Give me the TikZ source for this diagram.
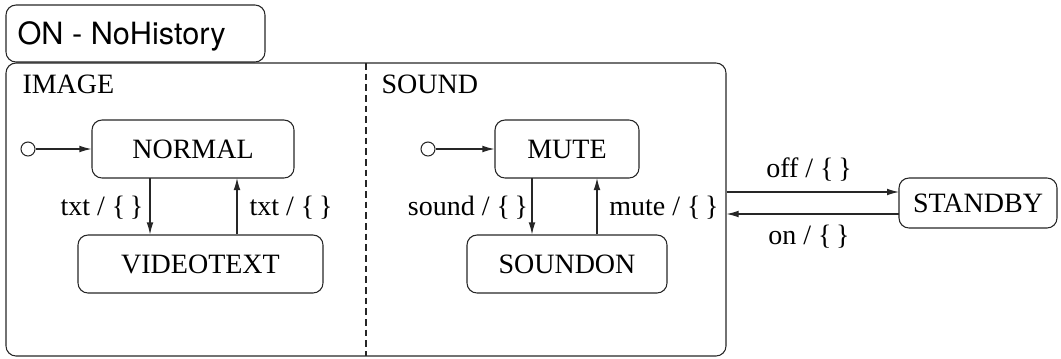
\documentclass[tikz,border=0pt]{standalone}
\usepackage{fontspec}
\setmainfont{Liberation Serif}
\newfontfamily\titlefont{TeX Gyre Heros}
\usetikzlibrary{arrows.meta,calc}
\begin{document}
\begin{tikzpicture}[x=0.75pt,y=-0.75pt,
  line width=0.8pt,
  state/.style={draw=black!85, rounded corners=7.5pt, minimum height=43.5pt, inner sep=0pt, font=\fontsize{21}{24}\selectfont},
  lbl/.style={inner sep=0pt, font=\fontsize{21}{24}\selectfont},
  arr/.style={draw=black!85, -{Latex[length=9pt,width=5pt]}},
  init/.style={draw=black!85, circle, minimum size=10.5pt, inner sep=0pt}]
\useasboundingbox (0,0) rectangle (1061,358);
% title and compound state
\node[draw=black!85, rounded corners=7.5pt, minimum width=194.25pt, minimum height=42.75pt] (title) at (135.5,33.5) {};
\node[anchor=west, inner sep=0pt, font=\titlefont\fontsize{23}{26}\selectfont] (titletext) at (17,36) {ON - NoHistory};
\node[draw=black!85, rounded corners=7.5pt, minimum width=540pt, minimum height=219.75pt] (on) at (366,209.5) {};
\coordinate (divtop) at (366,63);
\coordinate (divbot) at (366,356);
\draw[black!85, dash pattern=on 5pt off 3pt] (divtop) -- (divbot);
\node[lbl, anchor=west] (image) at (22,84) {IMAGE};
\node[lbl, anchor=west] (sound) at (381,84) {SOUND};
% IMAGE region
\node[state, minimum width=151.5pt] (normal) at (193,149) {NORMAL};
\node[state, minimum width=183.75pt] (video) at (200.5,264) {VIDEOTEXT};
\node[init] (i1) at (28,149) {};
\draw[arr] (i1) -- (normal);
\coordinate (a1) at (150,178);
\coordinate (a2) at (237,178);
\draw[arr] (a1) -- (a1 |- video.north);
\draw[arr] (a2 |- video.north) -- (a2);
\node[lbl] (l1) at (102,208) {txt / \{\,\}};
\node[lbl] (l2) at (291,208) {txt / \{\,\}};
% SOUND region
\node[state, minimum width=108pt] (mute) at (567,149) {MUTE};
\node[state, minimum width=150pt] (soundon) at (567,264) {SOUNDON};
\node[init] (i2) at (428,149) {};
\draw[arr] (i2) -- (mute);
\coordinate (b1) at (532,178);
\coordinate (b2) at (597,178);
\draw[arr] (b1) -- (b1 |- soundon.north);
\draw[arr] (b2 |- soundon.north) -- (b2);
\node[lbl] (l3) at (468,208) {sound / \{\,\}};
\node[lbl] (l4) at (664,208) {mute / \{\,\}};
% STANDBY
\node[state, minimum width=118.5pt, minimum height=37.5pt] (standby) at (978,203) {STANDBY};
\coordinate (c1) at (899,192);
\coordinate (c2) at (899,214);
\draw[arr] (c1 -| on.east) -- (c1);
\draw[arr] (c2) -- (c2 -| on.east);
\node[lbl] (l5) at (809,170) {off / \{\,\}};
\node[lbl] (l6) at (809,237) {on / \{\,\}};
\end{tikzpicture}
\end{document}
